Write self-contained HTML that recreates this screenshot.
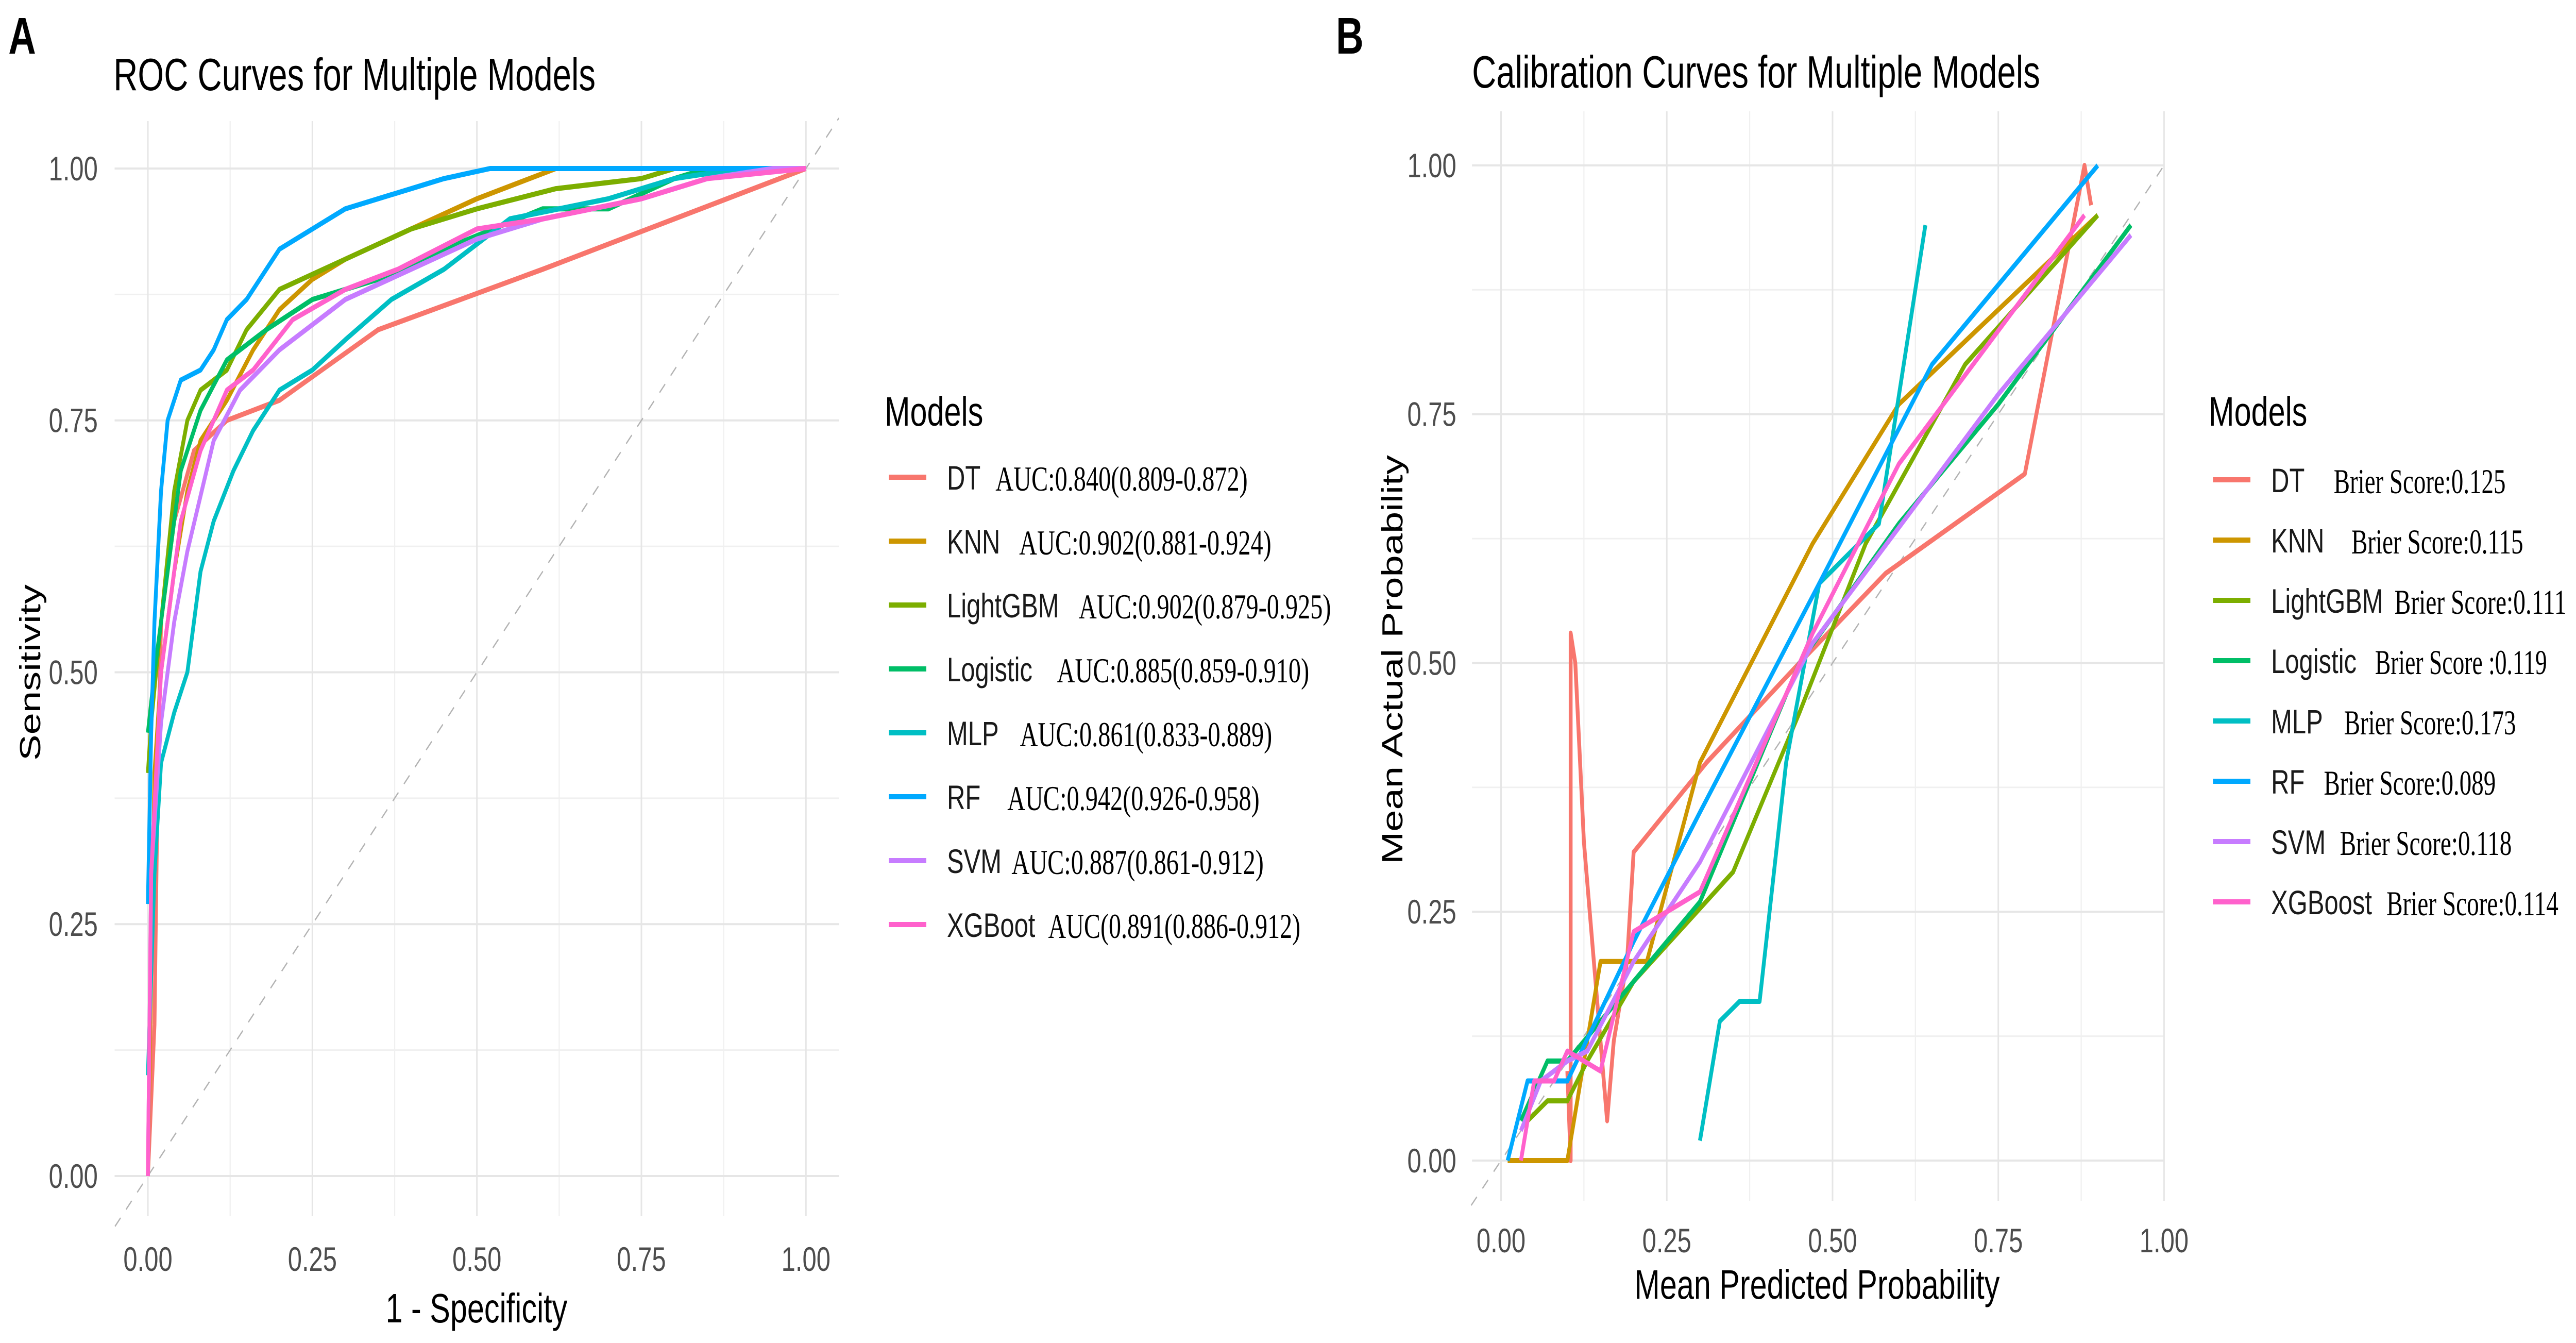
<!DOCTYPE html>
<html><head><meta charset="utf-8">
<style>
html,body{margin:0;padding:0;background:#fff;width:100%;height:100%;overflow:hidden;}
svg{display:block;width:100vw;height:100vh;}
text{font-family:"Liberation Sans",sans-serif;}
.serif{font-family:"Liberation Serif",serif;}
</style></head>
<body>
<svg id="chart" viewBox="0 0 6741 2606" preserveAspectRatio="none" xmlns="http://www.w3.org/2000/svg">
<g id="pA"></g>
<g id="pB"></g>
</svg>
<script>
const models = ["DT","KNN","LightGBM","Logistic","MLP","RF","SVM","XGBoot"];
const modelsB = ["DT","KNN","LightGBM","Logistic","MLP","RF","SVM","XGBoost"];
const colors = ["#F8766D","#CD9600","#7CAE00","#00BE67","#00BFC4","#00A9FF","#C77CFF","#FF61CC"];
const aucLabels = ["AUC:0.840(0.809-0.872)","AUC:0.902(0.881-0.924)","AUC:0.902(0.879-0.925)","AUC:0.885(0.859-0.910)","AUC:0.861(0.833-0.889)","AUC:0.942(0.926-0.958)","AUC:0.887(0.861-0.912)","AUC(0.891(0.886-0.912)"];
const brierLabels = ["Brier Score:0.125","Brier Score:0.115","Brier Score:0.111","Brier Score :0.119","Brier Score:0.173","Brier Score:0.089","Brier Score:0.118","Brier Score:0.114"];
const tickVals = [0,0.25,0.5,0.75,1];
const tickLabels = ["0.00","0.25","0.50","0.75","1.00"];

const rocDT = [[0,0],[0.01,0.15],[0.015,0.4],[0.02,0.55],[0.04,0.65],[0.07,0.72],[0.12,0.75],[0.2,0.77],[0.35,0.84],[0.6,0.9],[1,1]];
const rocKNN = [[0,0],[0.005,0.2],[0.01,0.4],[0.02,0.5],[0.04,0.6],[0.06,0.68],[0.08,0.73],[0.12,0.77],[0.16,0.82],[0.2,0.86],[0.25,0.89],[0.3,0.91],[0.4,0.94],[0.5,0.97],[0.62,1.0],[1,1]];
const rocLGB = [[0,0.4],[0.005,0.45],[0.02,0.55],[0.04,0.68],[0.06,0.75],[0.08,0.78],[0.12,0.8],[0.15,0.84],[0.2,0.88],[0.3,0.91],[0.4,0.94],[0.5,0.96],[0.62,0.98],[0.75,0.99],[0.8,1],[1,1]];
const rocLog = [[0,0.44],[0.01,0.5],[0.03,0.6],[0.05,0.7],[0.08,0.76],[0.12,0.81],[0.18,0.84],[0.25,0.87],[0.35,0.89],[0.45,0.92],[0.6,0.96],[0.7,0.96],[0.8,0.99],[0.85,1],[1,1]];
const rocMLP = [[0,0.1],[0.01,0.3],[0.02,0.41],[0.04,0.46],[0.06,0.5],[0.08,0.6],[0.1,0.65],[0.13,0.7],[0.16,0.74],[0.2,0.78],[0.25,0.8],[0.3,0.83],[0.37,0.87],[0.45,0.9],[0.55,0.95],[0.7,0.97],[0.8,0.99],[0.9,1],[1,1]];
const rocRF = [[0,0.27],[0.005,0.44],[0.01,0.55],[0.02,0.68],[0.03,0.75],[0.05,0.79],[0.08,0.8],[0.1,0.82],[0.12,0.85],[0.15,0.87],[0.17,0.89],[0.2,0.92],[0.25,0.94],[0.3,0.96],[0.35,0.97],[0.4,0.98],[0.45,0.99],[0.52,1.0],[1,1]];
const rocSVM = [[0,0],[0.005,0.3],[0.02,0.45],[0.04,0.55],[0.06,0.62],[0.1,0.73],[0.14,0.78],[0.2,0.82],[0.3,0.87],[0.4,0.9],[0.5,0.93],[0.6,0.95],[0.75,0.97],[0.85,0.99],[0.95,1],[1,1]];
const rocXGB = [[0,0],[0.005,0.3],[0.02,0.5],[0.05,0.65],[0.08,0.72],[0.12,0.78],[0.16,0.8],[0.22,0.85],[0.3,0.88],[0.38,0.9],[0.5,0.94],[0.6,0.95],[0.75,0.97],[0.85,0.99],[1,1]];

const calDT = [[0.1,0.09],[0.105,0.0],[0.105,0.53],[0.112,0.5],[0.125,0.32],[0.14,0.2],[0.155,0.08],[0.16,0.04],[0.17,0.12],[0.19,0.2],[0.2,0.31],[0.31,0.4],[0.45,0.5],[0.58,0.59],[0.79,0.69],[0.88,1.0],[0.89,0.96]];
const calKNN = [[0.01,0],[0.1,0],[0.12,0.08],[0.15,0.2],[0.22,0.2],[0.3,0.4],[0.47,0.62],[0.6,0.76],[0.9,0.95]];
const calLGB = [[0.04,0.04],[0.07,0.06],[0.1,0.06],[0.13,0.1],[0.2,0.18],[0.35,0.29],[0.45,0.45],[0.55,0.62],[0.7,0.8],[0.9,0.95]];
const calLog = [[0.03,0.04],[0.07,0.1],[0.1,0.1],[0.2,0.18],[0.3,0.26],[0.45,0.5],[0.6,0.64],[0.75,0.76],[0.95,0.94]];
const calMLP = [[0.3,0.02],[0.33,0.14],[0.36,0.16],[0.39,0.16],[0.43,0.4],[0.48,0.58],[0.57,0.64],[0.64,0.94]];
const calRF = [[0.01,0],[0.04,0.08],[0.1,0.08],[0.2,0.22],[0.3,0.35],[0.48,0.58],[0.65,0.8],[0.9,1.0]];
const calSVM = [[0.03,0.03],[0.06,0.08],[0.1,0.1],[0.13,0.11],[0.2,0.2],[0.3,0.3],[0.47,0.52],[0.75,0.77],[0.95,0.93]];
const calXGB = [[0.03,0],[0.05,0.08],[0.08,0.08],[0.1,0.11],[0.15,0.09],[0.2,0.23],[0.3,0.27],[0.47,0.53],[0.6,0.7],[0.88,0.95]];

const rocSeries = [rocDT,rocKNN,rocLGB,rocLog,rocMLP,rocRF,rocSVM,rocXGB];
const calSeries = [calDT,calKNN,calLGB,calLog,calMLP,calRF,calSVM,calXGB];

const NS="http://www.w3.org/2000/svg";
function mk(parent,tag,attrs,txt){const e=document.createElementNS(NS,tag);for(const k in attrs)e.setAttribute(k,attrs[k]);if(txt!==undefined)e.textContent=txt;parent.appendChild(e);return e;}

function panel(g,cfg){
  const sx=v=>cfg.x0+v*cfg.xs, sy=v=>cfg.y0-v*cfg.ys;
  for(let i=0;i<4;i++){const v=0.125+i*0.25;
    let l=mk(g,'line',{x1:sx(v),x2:sx(v),y1:cfg.gt,y2:cfg.gb,stroke:'#f0f0f0','stroke-width':3});
    
    
    l=mk(g,'line',{x1:cfg.gl,x2:cfg.gr,y1:sy(v),y2:sy(v),stroke:'#f0f0f0','stroke-width':3});
    
    }
  tickVals.forEach((v,i)=>{
    let l=mk(g,'line',{x1:sx(v),x2:sx(v),y1:cfg.gt,y2:cfg.gb,stroke:'#e6e6e6','stroke-width':4});
    
    
    l=mk(g,'line',{x1:cfg.gl,x2:cfg.gr,y1:sy(v),y2:sy(v),stroke:'#e6e6e6','stroke-width':4});
    
    
    let t=mk(g,'text',{x:sx(v),y:cfg.xly,'text-anchor':'middle','font-size':66,fill:'#4d4d4d'},tickLabels[i]);
    
    
    t=mk(g,'text',{x:cfg.ylx,y:sy(v)+23,'text-anchor':'end','font-size':66,fill:'#4d4d4d'},tickLabels[i]);
    
    
  });
  let d=mk(g,'line',{x1:sx(cfg.dlo),y1:sy(cfg.dlo),x2:sx(cfg.dhi),y2:sy(cfg.dhi),stroke:'#b3b3b3','stroke-width':3,'stroke-dasharray':'22 22'});
  
  
  cfg.series.forEach((s,i)=>{
    const p=mk(g,'polyline',{points:s.map(q=>sx(q[0])+','+sy(q[1])).join(' '),fill:'none',stroke:colors[i],'stroke-width':10,'stroke-linejoin':'round'});
    
    
  });
  let t=mk(g,'text',{x:cfg.titleX,y:cfg.titleY,'font-size':88,fill:'#000'},cfg.title);
  
  
  t=mk(g,'text',{x:cfg.panelX,y:cfg.panelY,'font-size':100,'font-weight':'bold',fill:'#000'},cfg.panel);
  
  
  t=mk(g,'text',{x:cfg.xtX,y:cfg.xtY,'text-anchor':'middle','font-size':80,fill:'#000'},cfg.xtitle);
  
  
  t=mk(g,'text',{x:cfg.ytX,y:cfg.ytY,'text-anchor':'middle','font-size':76,fill:'#000',transform:`rotate(-90 ${cfg.ytX} ${cfg.ytY})`},cfg.ytitle);
  
  
  t=mk(g,'text',{x:cfg.lgX,y:cfg.lgY,'font-size':80,fill:'#000'},'Models');
  
  
  cfg.names.forEach((n,i)=>{
    const y=cfg.lkY+i*cfg.lstep;
    const e=mk(g,'g',{});
    
    
    mk(e,'line',{x1:cfg.lkX,x2:cfg.lkX+98,y1:y,y2:y,stroke:colors[i],'stroke-width':10});
    mk(e,'text',{x:cfg.lkX+152,y:y+24,'font-size':66,fill:'#1a1a1a'},n);
    mk(e,'text',{x:cfg.extraX[i],y:y+26,'font-size':68,fill:'#000',class:'serif',textLength:cfg.extraW,lengthAdjust:'spacingAndGlyphs'},cfg.extra[i]);
  });
}

panel(document.getElementById('pA'),{
  x0:387,xs:1722,y0:2282,ys:1955,gt:235,gb:2360,gl:300,gr:2196,xly:2466,ylx:256,
  dlo:-0.05,dhi:1.05,series:rocSeries,names:models,
  title:'ROC Curves for Multiple Models',titleX:297,titleY:175,panel:'A',panelX:22,panelY:104,
  xtitle:'1 - Specificity',xtX:1247,xtY:2566,ytitle:'Sensitivity',ytX:105,ytY:1305,
  lgX:2315,lgY:826,lkX:2326,lkY:926,lstep:124,
  extra:aucLabels,extraX:[2605,2667,2823,2766,2669,2636,2647,2743],extraW:660
});
panel(document.getElementById('pB'),{
  x0:3928,xs:1735,y0:2252,ys:1931,gt:216,gb:2330,gl:3852,gr:5663,xly:2430,ylx:3811,
  dlo:-0.045,dhi:1.0,series:calSeries,names:modelsB,
  title:'Calibration Curves for Multiple Models',titleX:3852,titleY:170,panel:'B',panelX:3496,panelY:104,
  xtitle:'Mean Predicted Probability',xtX:4755,xtY:2520,ytitle:'Mean Actual Probability',ytX:3670,ytY:1280,
  lgX:5780,lgY:826,lkX:5791,lkY:931,lstep:117,
  extra:brierLabels,extraX:[6107,6153,6266,6215,6134,6081,6123,6245],extraW:450
});
</script>
</body></html>
